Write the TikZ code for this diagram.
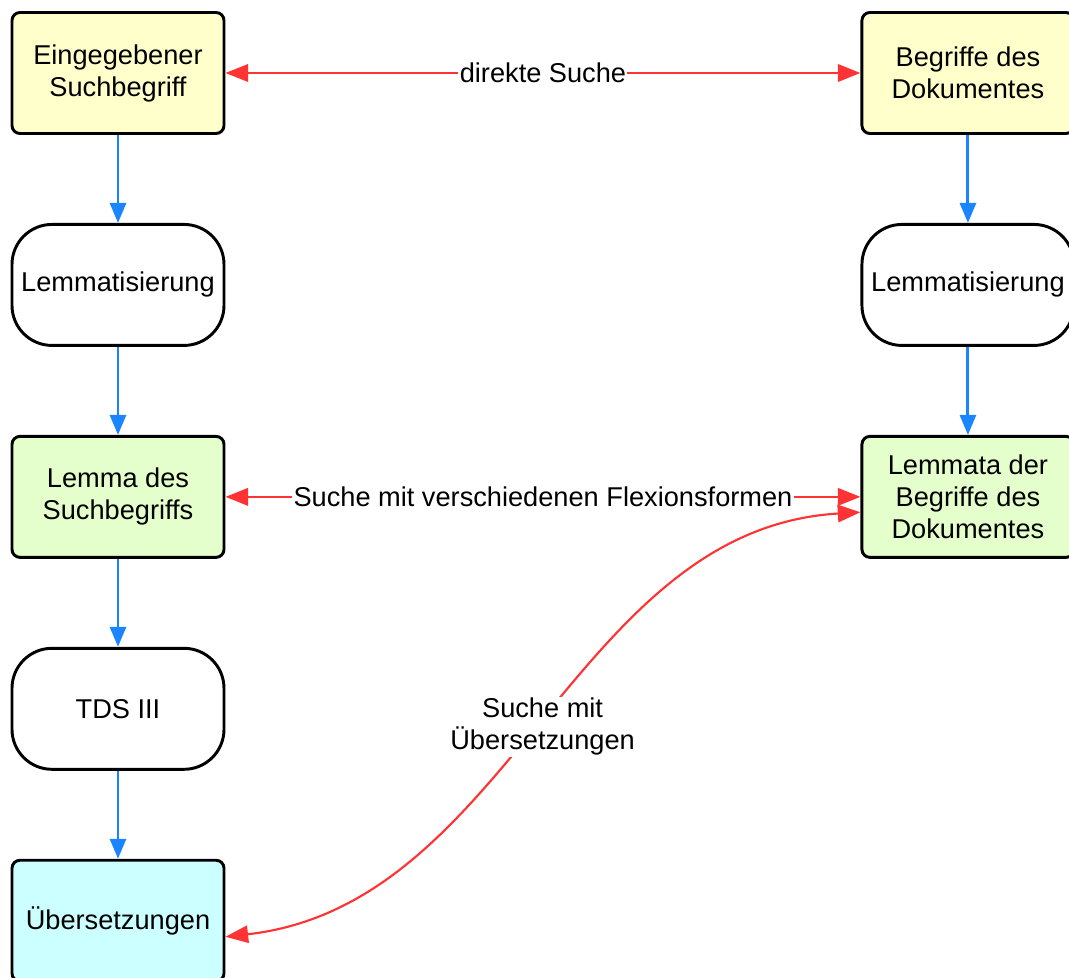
\documentclass[tikz,border=0pt]{standalone}
\usepackage{fontspec}
\setmainfont{Liberation Sans}
\usepackage{xcolor}
\usetikzlibrary{positioning, arrows.meta}

\definecolor{gelb}{HTML}{FFFFCC}
\definecolor{gruen}{HTML}{E5FFCC}
\definecolor{tuerkis}{HTML}{CCFFFF}
\definecolor{pfeilblau}{HTML}{1A85FF}
\definecolor{pfeilrot}{HTML}{FF3333}

\begin{document}
\begin{tikzpicture}[
    x=0.75pt, y=-0.75pt,
    node distance=66pt and 476.25pt,
    box/.style={rectangle, draw, line width=2.2pt, rounded corners=6pt, minimum width=159pt, minimum height=90.75pt, align=center, font=\fontsize{20.4}{24}\selectfont},
    yellowbox/.style={box, fill=gelb},
    greenbox/.style={box, fill=gruen},
    cyanbox/.style={box, fill=tuerkis},
    pillbox/.style={box, fill=white, rounded corners=30pt},
    blue arrow/.style={-{Triangle[length=15pt, width=12pt]}, line width=2.2pt, draw=pfeilblau},
    red arrow/.style={{Triangle[length=17pt, width=13pt]}-{Triangle[length=17pt, width=13pt]}, line width=2pt, draw=pfeilrot},
    label/.style={fill=white, inner sep=1pt, align=center, text=black, font=\fontsize{20.4}{24}\selectfont}
]
    \useasboundingbox (0,0) rectangle (1069,977);

    % linke Spalte
    \node [yellowbox] (eingabe) at (118,73) {Eingegebener\\Suchbegriff};
    \node [pillbox, below=of eingabe] (lemmaL) {Lemmatisierung};
    \node [greenbox, below=of lemmaL] (lemma) {Lemma des\\Suchbegriffs};
    \node [pillbox, below=of lemma] (tds) {TDS III};
    \node [cyanbox, below=of tds] (uebers) {Übersetzungen};

    % rechte Spalte
    \node [yellowbox, right=of eingabe] (begriffe) {Begriffe des\\Dokumentes};
    \node [pillbox, below=of begriffe] (lemmaR) {Lemmatisierung};
    \node [greenbox, below=of lemmaR] (lemmata) {Lemmata der\\Begriffe des\\Dokumentes};

    \draw [blue arrow] (eingabe) -- (lemmaL);
    \draw [blue arrow] (lemmaL) -- (lemma);
    \draw [blue arrow] (lemma) -- (tds);
    \draw [blue arrow] (tds) -- (uebers);
    \draw [blue arrow] (begriffe) -- (lemmaR);
    \draw [blue arrow] (lemmaR) -- (lemmata);

    \draw [red arrow] (eingabe) -- node[label] {direkte Suche} (begriffe);
    \draw [red arrow] (lemma) -- node[label] {Suche mit verschiedenen Flexionsformen} (lemmata);
    \draw [red arrow, line width=1.6pt] ([yshift=-12pt]uebers.east) .. controls +(286,-32) and +(-287,17) .. node[label, pos=0.5, yshift=-6pt] {Suche mit\\Übersetzungen} ([yshift=-11.5pt]lemmata.west);
\end{tikzpicture}
\end{document}
